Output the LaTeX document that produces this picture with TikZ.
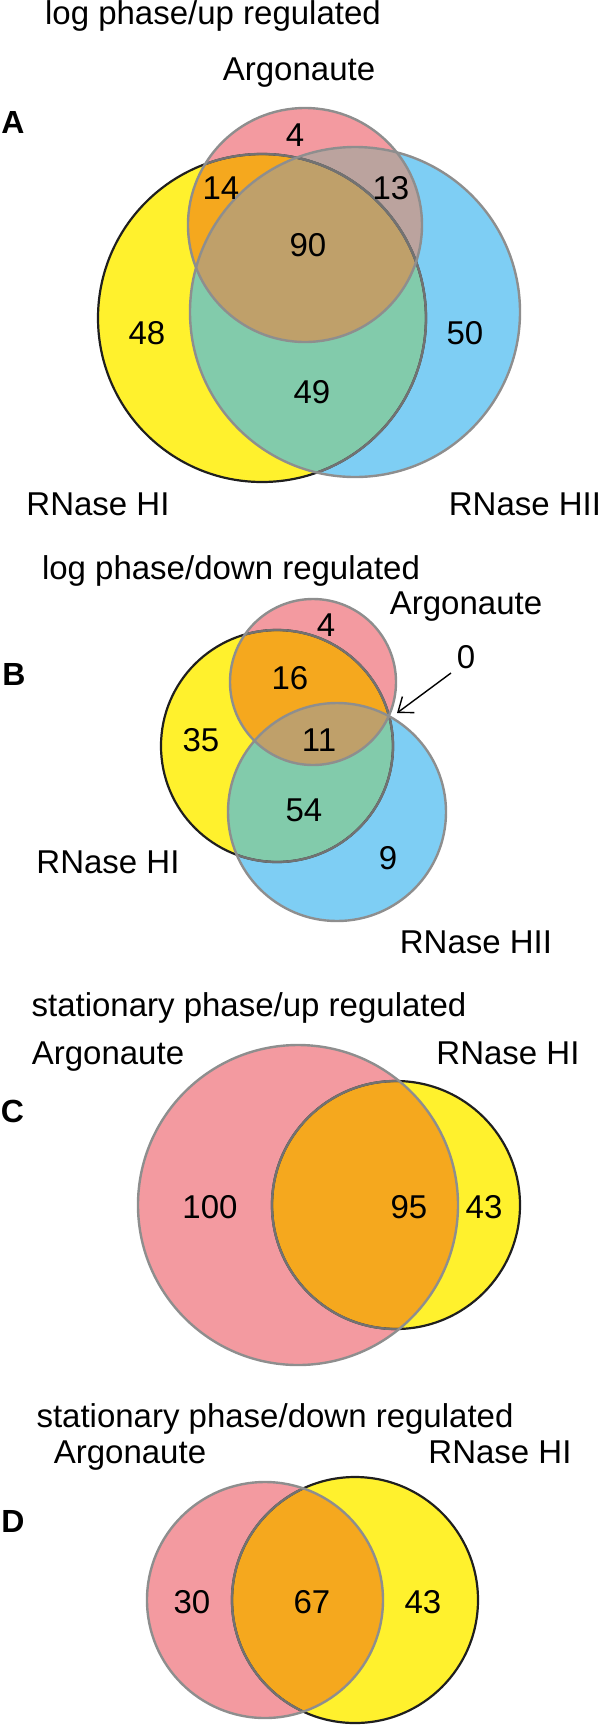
\documentclass[tikz,border=0pt]{standalone}
\usepackage{fontspec}
\setmainfont{Liberation Sans}
\usetikzlibrary{arrows.meta}
\definecolor{argopink}{HTML}{F39AA0}
\definecolor{rhoneyellow}{HTML}{FFF12D}
\definecolor{rhtwoblue}{HTML}{7ECEF4}
\definecolor{pinkyellow}{HTML}{F5A81E}
\definecolor{yellowblue}{HTML}{82CBAB}
\definecolor{pinkblue}{HTML}{BBA39E}
\definecolor{allthree}{HTML}{BFA06A}
\definecolor{ringgray}{HTML}{8E8E8E}
\tikzset{
	lbl/.style={anchor=base, inner sep=0pt, font=\fontsize{16.5}{20}\selectfont},
	num/.style={inner sep=0pt, font=\fontsize{16.5}{20}\selectfont},
	panel/.style={anchor=base, inner sep=0pt, font=\fontsize{16}{20}\selectfont\bfseries},
	ring/.style={draw=ringgray, line width=1.2pt},
	yring/.style={draw=black!88, line width=1.1pt}
}
\begin{document}
\begin{tikzpicture}[x=0.5pt, y=-0.5pt]
	\useasboundingbox (0,0) rectangle (600,1725);

	% ---------- A: log phase / up ----------
	\coordinate (argoA) at (305,225);
	\coordinate (rhoneA) at (262,318);
	\coordinate (rhtwoA) at (355,312);
	\fill[rhoneyellow] (rhoneA) circle[radius=164];
	\fill[rhtwoblue] (rhtwoA) circle[radius=165];
	\fill[argopink] (argoA) circle[radius=117];
	\begin{scope}
		\clip (rhoneA) circle[radius=164];
		\fill[yellowblue] (rhtwoA) circle[radius=165];
	\end{scope}
	\begin{scope}
		\clip (argoA) circle[radius=117];
		\fill[pinkyellow] (rhoneA) circle[radius=164];
	\end{scope}
	\begin{scope}
		\clip (argoA) circle[radius=117];
		\fill[pinkblue] (rhtwoA) circle[radius=165];
	\end{scope}
	\begin{scope}
		\clip (argoA) circle[radius=117];
		\clip (rhoneA) circle[radius=164];
		\fill[allthree] (rhtwoA) circle[radius=165];
	\end{scope}
	% outlines
	\draw[yring] (rhoneA) circle[radius=164];
	\begin{scope}
		\clip (rhtwoA) circle[radius=165];
		\draw[ring, draw=ringgray!80!black] (rhoneA) circle[radius=164];
	\end{scope}
	\begin{scope}
		\clip (argoA) circle[radius=117];
		\draw[ring, draw=ringgray!80!black] (rhoneA) circle[radius=164];
	\end{scope}
	\draw[ring] (rhtwoA) circle[radius=165];
	\draw[ring] (argoA) circle[radius=117];

	\node[lbl] (titleA) at (213,24) {log phase/up regulated};
	\node[lbl] (argoLblA) at (299,80) {Argonaute};
	\node[panel] (panelA) at (13,133) {A};
	\node[lbl] (rhoneLblA) at (98,515) {RNase HI};
	\node[lbl] (rhtwoLblA) at (525,515) {RNase HII};
	\node[num] (nA1) at (295,135) {4};
	\node[num] (nA2) at (221,188) {14};
	\node[num] (nA3) at (391,188) {13};
	\node[num] (nA4) at (308,245) {90};
	\node[num] (nA5) at (147,333) {48};
	\node[num] (nA6) at (465,333) {50};
	\node[num] (nA7) at (312,392) {49};

	% ---------- B: log phase / down ----------
	\coordinate (argoB) at (313,682);
	\coordinate (rhoneB) at (277,746);
	\coordinate (rhtwoB) at (337,812);
	\fill[rhoneyellow] (rhoneB) circle[radius=116];
	\fill[rhtwoblue] (rhtwoB) circle[radius=109];
	\fill[argopink] (argoB) circle[radius=83];
	\begin{scope}
		\clip (rhoneB) circle[radius=116];
		\fill[yellowblue] (rhtwoB) circle[radius=109];
	\end{scope}
	\begin{scope}
		\clip (argoB) circle[radius=83];
		\fill[pinkyellow] (rhoneB) circle[radius=116];
	\end{scope}
	\begin{scope}
		\clip (argoB) circle[radius=83];
		\fill[pinkblue] (rhtwoB) circle[radius=109];
	\end{scope}
	\begin{scope}
		\clip (argoB) circle[radius=83];
		\clip (rhoneB) circle[radius=116];
		\fill[allthree] (rhtwoB) circle[radius=109];
	\end{scope}
	% outlines
	\draw[yring] (rhoneB) circle[radius=116];
	\begin{scope}
		\clip (rhtwoB) circle[radius=109];
		\draw[ring, draw=ringgray!80!black] (rhoneB) circle[radius=116];
	\end{scope}
	\begin{scope}
		\clip (argoB) circle[radius=83];
		\draw[ring, draw=ringgray!80!black] (rhoneB) circle[radius=116];
	\end{scope}
	\draw[ring] (rhtwoB) circle[radius=109];
	\draw[ring] (argoB) circle[radius=83];

	\node[lbl] (titleB) at (231,579) {log phase/down regulated};
	\node[lbl] (argoLblB) at (466,614) {Argonaute};
	\node[panel] (panelB) at (14,685) {B};
	\node[lbl] (rhoneLblB) at (108,873) {RNase HI};
	\node[lbl] (rhtwoLblB) at (476,953) {RNase HII};
	\node[num] (nB1) at (326,625) {4};
	\node[num] (nB2) at (290,678) {16};
	\node[num] (nB3) at (319,740) {11};
	\node[num] (nB4) at (201,740) {35};
	\node[num] (nB5) at (304,810) {54};
	\node[num] (nB6) at (388,858) {9};
	\node[num] (nB7) at (466,657) {0};
	% pointer to the empty region
	\coordinate (tailB) at (451,673);
	\coordinate (tipB) at (397,713);
	\draw[-{Straight Barb[length=6.5pt, width=10pt]}, line width=0.7pt] (tailB) -- (tipB);

	% ---------- C: stationary phase / up ----------
	\coordinate (argoC) at (298,1205);
	\coordinate (rhoneC) at (396,1205);
	\fill[rhoneyellow] (rhoneC) circle[radius=124];
	\fill[argopink] (argoC) circle[radius=160];
	\begin{scope}
		\clip (argoC) circle[radius=160];
		\fill[pinkyellow] (rhoneC) circle[radius=124];
	\end{scope}
	\draw[yring] (rhoneC) circle[radius=124];
	\begin{scope}
		\clip (argoC) circle[radius=160];
		\draw[ring, draw=ringgray!80!black] (rhoneC) circle[radius=124];
	\end{scope}
	\draw[ring] (argoC) circle[radius=160];

	\node[lbl] (titleC) at (249,1016) {stationary phase/up regulated};
	\node[lbl] (argoLblC) at (108,1064) {Argonaute};
	\node[lbl] (rhoneLblC) at (508,1064) {RNase HI};
	\node[panel] (panelC) at (12.5,1122) {C};
	\node[num] (nC1) at (210,1207) {100};
	\node[num] (nC2) at (409,1207) {95};
	\node[num] (nC3) at (484,1207) {43};

	% ---------- D: stationary phase / down ----------
	\coordinate (argoD) at (265,1600);
	\coordinate (rhoneD) at (355,1600);
	\fill[rhoneyellow] (rhoneD) circle[radius=123];
	\fill[argopink] (argoD) circle[radius=118];
	\begin{scope}
		\clip (argoD) circle[radius=118];
		\fill[pinkyellow] (rhoneD) circle[radius=123];
	\end{scope}
	\draw[yring] (rhoneD) circle[radius=123];
	\begin{scope}
		\clip (argoD) circle[radius=118];
		\draw[ring, draw=ringgray!80!black] (rhoneD) circle[radius=123];
	\end{scope}
	\draw[ring] (argoD) circle[radius=118];

	\node[lbl] (titleD) at (275,1427) {stationary phase/down regulated};
	\node[lbl] (argoLblD) at (130,1463) {Argonaute};
	\node[lbl] (rhoneLblD) at (500,1463) {RNase HI};
	\node[panel] (panelD) at (13,1532) {D};
	\node[num] (nD1) at (192,1602) {30};
	\node[num] (nD2) at (312,1602) {67};
	\node[num] (nD3) at (423,1602) {43};
\end{tikzpicture}
\end{document}
